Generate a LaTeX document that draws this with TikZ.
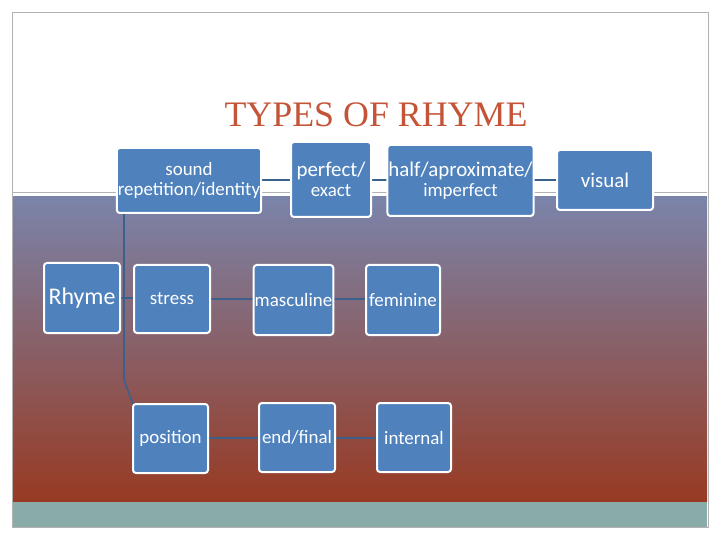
\documentclass[tikz,border=0pt]{standalone}
\usepackage{fontspec}
\setmainfont{Liberation Serif}
\newfontfamily\carl{Carlito}
\definecolor{boxblue}{RGB}{79,129,189}
\definecolor{linec}{RGB}{60,96,140}
\definecolor{titlec}{RGB}{196,84,56}
\definecolor{gtop}{RGB}{122,132,170}
\definecolor{gbot}{RGB}{152,58,34}
\definecolor{tealc}{RGB}{138,172,168}
\begin{document}
\begin{tikzpicture}[x=1bp,y=-1bp,
  bx/.style={draw=white,line width=2bp,fill=boxblue,rounded corners=3bp,text=white,font=\carl\fontsize{19}{20}\selectfont,align=center,inner sep=1bp},
  ln/.style={draw=linec,line width=1.6bp}]
\useasboundingbox (0,0) rectangle (720,540);
\fill[white] (0,0) rectangle (720,540);
\draw[gray!60] (12,12) rectangle (708,527);
\shade[top color=gtop,bottom color=gbot] (13,197) rectangle (707,502);
\fill[tealc] (13,502) rectangle (707,527);
\draw[gray!60] (13,192) -- (707,192);
\node[text=titlec,font=\fontsize{36}{38}\selectfont] (title) at (376,115) {TYPES OF RHYME};
\coordinate (br) at (124,298);
\draw[ln] (120,298) -- (br);
\draw[ln] (124,200) -- (br) -- (124,380) -- (133,404);
\draw[ln] (br) -- (134,298);
\draw[ln] (124,200) -- (130,190);
\draw[ln] (248,180) -- (291,180);
\draw[ln] (371,180) -- (393,180);
\draw[ln] (528,180) -- (557,180);
\draw[ln] (210,299) -- (256,299);
\draw[ln] (331,299) -- (366,299);
\draw[ln] (208,438) -- (259,438);
\draw[ln] (335,438) -- (377,438);
\def\B#1#2#3#4#5#6{\node[bx,minimum width=#4bp-#2bp,minimum height=#5bp-#3bp] (#1) at ({(#2+#4)/2},{(#3+#5)/2}) {#6};}
\B{rhyme}{44}{263}{120}{333}{\fontsize{24}{26}\selectfont Rhyme}
\B{sound}{130}{148}{248}{213}{sound\\repetition/identity}
\B{perfect}{291}{142}{371}{217}{\fontsize{21}{23}\selectfont perfect/\\exact}
\B{half}{393}{145}{528}{216}{\fontsize{21}{23}\selectfont half/aproximate/\\imperfect}
\B{visual}{557}{150}{653}{210}{\fontsize{21}{23}\selectfont visual}
\B{stress}{134}{265}{210}{333}{stress}
\B{masc}{256}{265}{331}{335}{masculine}
\B{fem}{366}{265}{440}{335}{feminine}
\B{pos}{133}{404}{208}{473}{position}
\B{end}{259}{403}{335}{472}{end/final}
\B{int}{377}{403}{451}{472}{internal}
\end{tikzpicture}
\end{document}
